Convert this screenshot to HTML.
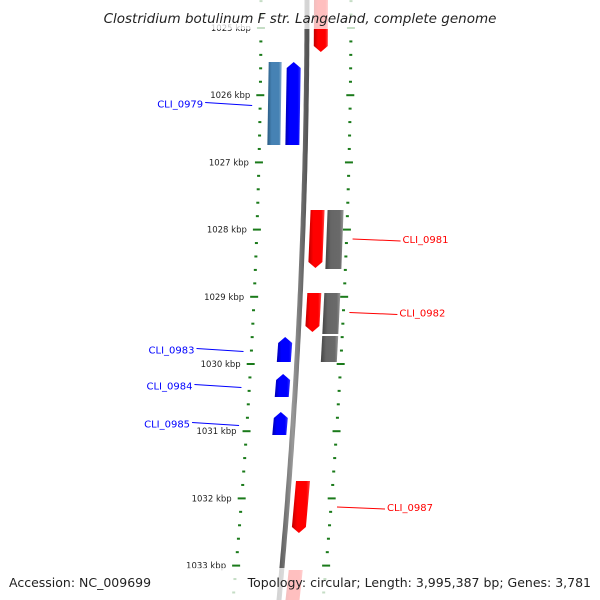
<!DOCTYPE html>
<html><head><meta charset="utf-8"><style>
body{margin:0;background:#fff}
svg{display:block;font-family:"DejaVu Sans","Liberation Sans",sans-serif}
</style></head><body>
<svg id="c" width="600" height="600" viewBox="0 0 600 600">
<defs>
<linearGradient id="gBlue" x1="0" x2="1"><stop offset="0" stop-color="#0000b0"/><stop offset="0.3" stop-color="#0000ff"/><stop offset="0.8" stop-color="#0000ff"/><stop offset="1" stop-color="#3333ff"/></linearGradient>
<linearGradient id="gRed" x1="0" x2="1"><stop offset="0" stop-color="#c00000"/><stop offset="0.3" stop-color="#ff0000"/><stop offset="0.8" stop-color="#ff0000"/><stop offset="1" stop-color="#ff4444"/></linearGradient>
<linearGradient id="gGray" x1="0" x2="1"><stop offset="0" stop-color="#444"/><stop offset="0.3" stop-color="#666"/><stop offset="0.8" stop-color="#6a6a6a"/><stop offset="1" stop-color="#999"/></linearGradient>
<linearGradient id="gSteel" x1="0" x2="1"><stop offset="0" stop-color="#2a5a80"/><stop offset="0.3" stop-color="#4682b4"/><stop offset="0.8" stop-color="#4682b4"/><stop offset="1" stop-color="#8ab0d0"/></linearGradient>
<linearGradient id="gLine" x1="0" x2="1"><stop offset="0" stop-color="#555"/><stop offset="0.5" stop-color="#999"/><stop offset="1" stop-color="#555"/></linearGradient>
</defs>
<g id="ticks"></g><g id="backbone"></g><g id="genes"></g><g id="labels"></g>
<rect x="0" y="0" width="600" height="29" fill="#fff" opacity="0.75"/>
<rect x="0" y="568" width="600" height="32" fill="#fff" opacity="0.75"/>
<text x="300" y="23" text-anchor="middle" font-size="13.5" font-style="italic" fill="#222">Clostridium botulinum F str. Langeland, complete genome</text>
<text x="9" y="587" font-size="12.5" fill="#222">Accession: NC_009699</text>
<text x="591" y="587" text-anchor="end" font-size="12.5" fill="#222">Topology: circular; Length: 3,995,387 bp; Genes: 3,781</text>
</svg>
<script>
const tickKbp=[1025,1026,1027,1028,1029,1030,1031,1032,1033];
const geneNames=["top-gene","CLI_0979","CLI_0979b","CLI_0981","CLI_0981b","CLI_0982","CLI_0982b","CLI_0983b","CLI_0983","CLI_0984","CLI_0985","CLI_0987","bottom-gene"];
const geneStart=[1024.58,1025.506,1025.506,1027.708,1027.708,1028.943,1028.943,1029.583,1029.598,1030.149,1030.714,1031.741,1033.065];
const geneEnd=[1025.357,1026.741,1026.741,1028.571,1028.586,1029.524,1029.554,1029.97,1029.97,1030.491,1031.057,1032.515,1033.7];
const geneTrack=["red","blue","steel","red","gray","red","gray","gray","blue","blue","blue","red","red"];
const labelText=["CLI_0979","CLI_0981","CLI_0982","CLI_0983","CLI_0984","CLI_0985","CLI_0987"];
const labelGene=[1,3,5,8,9,10,11];
const NS="http://www.w3.org/2000/svg";
function yOf(k){return 28+(k-1025)*67.2;}
function cx(y){return 307-28*(y/600)*(y/600);}
const trackOff={blue:[-20,-6],steel:[-38,-25],red:[7,21],gray:[24,40]};
function mk(tag,attrs,parent){const e=document.createElementNS(NS,tag);for(const k in attrs)e.setAttribute(k,attrs[k]);parent.appendChild(e);return e;}
const T=document.getElementById('ticks'),B=document.getElementById('backbone'),G=document.getElementById('genes'),L=document.getElementById('labels');
// dotted tracks
for(let k=tickKbp[0]-0.4;k<=tickKbp[tickKbp.length-1]+0.6;k+=0.2){
  const y=yOf(k);const major=Math.abs(k-Math.round(k))<0.01;
  [-46,44].forEach(o=>{
    const x=cx(y)+o;const w=major?8:3;
    const r=mk('rect',{x:x-w/2,y:y-1,width:w,height:2,fill:'#1a7a1a'},T);
    
    
  });
}
tickKbp.forEach(k=>{
  const y=yOf(k);
  const t=mk('text',{x:cx(y)-56,y:y+3,'text-anchor':'end','font-size':'8.5',fill:'#222'},T);
  t.textContent=k+' kbp';
  
  
});
// backbone
let d='';for(let y=-5;y<=605;y+=5){d+=(y<0?'M':'L')+cx(y).toFixed(1)+','+y;}
const bb=mk('path',{d:d,stroke:'url(#gLine)',fill:'none','stroke-width':5},B);


// genes
const fills={blue:'url(#gBlue)',red:'url(#gRed)',gray:'url(#gGray)',steel:'url(#gSteel)'};
geneNames.forEach((n,i)=>{
  const y1=yOf(geneStart[i]),y2=yOf(geneEnd[i]);const tr=geneTrack[i];
  const o=trackOff[tr];const c1=cx(y1),c2=cx(y2);
  let p;
  if(tr==='blue'){const t=6;p=`M${c2+o[0]},${y2} L${c1+o[0]},${y1+t} L${c1+(o[0]+o[1])/2},${y1} L${c1+o[1]},${y1+t} L${c2+o[1]},${y2} Z`;}
  else if(tr==='red'){const t=6;p=`M${c1+o[0]},${y1} L${c2+o[0]},${y2-t} L${c2+(o[0]+o[1])/2},${y2} L${c2+o[1]},${y2-t} L${c1+o[1]},${y1} Z`;}
  else p=`M${c1+o[0]},${y1} L${c2+o[0]},${y2} L${c2+o[1]},${y2} L${c1+o[1]},${y1} Z`;
  const g=mk('path',{d:p,fill:fills[tr]},G);
  
  
});
// labels
labelText.forEach((t,j)=>{
  const i=labelGene[j];const tr=geneTrack[i];const ym=(yOf(geneStart[i])+yOf(geneEnd[i]))/2;
  const left=tr==='blue'||tr==='steel';const col=left?'#0000ff':'#ff0000';
  let xs,xe,tx,anchor;
  if(left){xe=cx(ym)-54;xs=xe-47;tx=xs-2;anchor='end';}
  else{xs=cx(ym)+50;xe=xs+48;tx=xe+2;anchor='start';}
  const ln=mk('line',{x1:xs,y1:left?ym-1:ym,x2:xe,y2:left?ym+2:ym+2,stroke:col,'stroke-width':1},L);
  
  
  const tt=mk('text',{x:tx,y:ym+4,'text-anchor':anchor,'font-size':'10',fill:col},L);
  tt.textContent=t;
  
  
});
</script>
</body></html>
